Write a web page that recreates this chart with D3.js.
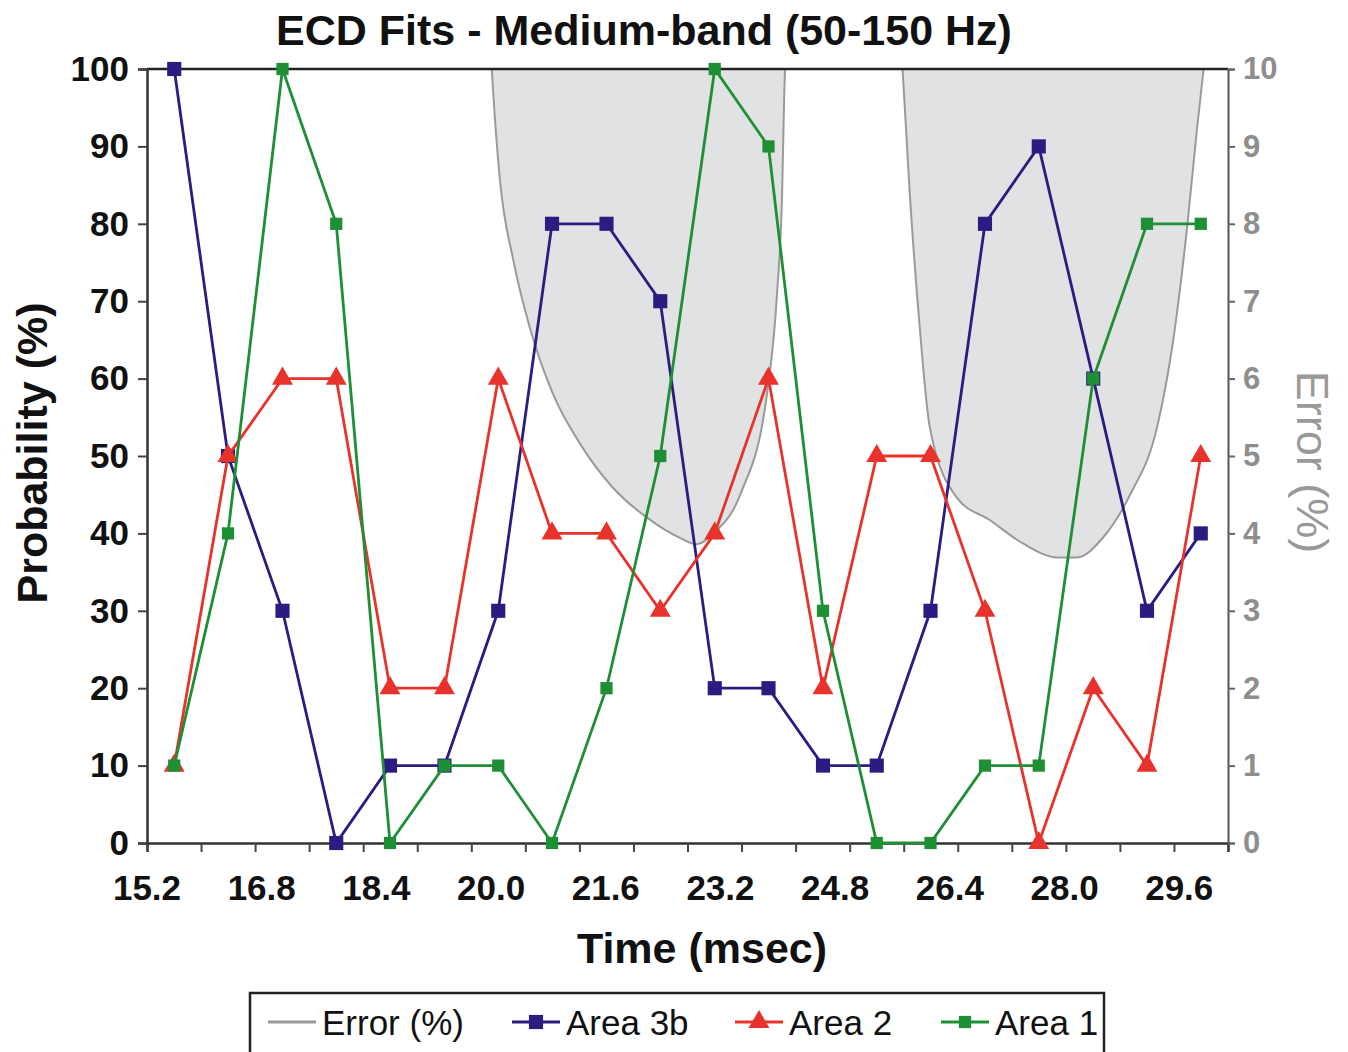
<!DOCTYPE html>
<html>
<head>
<meta charset="utf-8">
<script src="https://cdn.jsdelivr.net/npm/d3@7"></script>
<style>
  body { margin: 0; background: #fff; }
  svg { display: block; font-family: "Liberation Sans", Arial, sans-serif; }
</style>
</head>
<body>
<div id="chart"></div>
<script>
// categories: time of each fit (msec)
const times = [15.58, 16.33, 17.09, 17.84, 18.59, 19.35, 20.10, 20.85, 21.61, 22.36,
  23.12, 23.87, 24.63, 25.38, 26.13, 26.89, 27.64, 28.40, 29.15, 29.90]

const area3b = [100, 50, 30, 0, 10, 10, 30, 80, 80, 70, 20, 20, 10, 10, 30, 80, 90, 60, 30, 40]
const area2 = [10, 50, 60, 60, 20, 20, 60, 40, 40, 30, 40, 60, 20, 50, 50, 30, 0, 20, 10, 50]
const area1 = [10, 40, 100, 80, 0, 10, 10, 0, 20, 50, 100, 90, 30, 0, 0, 10, 10, 60, 80, 80]

// error curve (null = off the chart, above 10 %)
const errorTime = [20.01, 20.03, 20.12, 20.31, 20.54, 20.86, 21.24, 21.70, 22.18, 22.64,
  22.87, 23.10, 23.48, 23.85, 23.99, 24.06, 24.09, 24.10, 24.9,
  25.74, 25.84, 25.98, 26.12, 26.50, 26.96, 27.42, 27.90, 28.17, 28.54,
  28.92, 29.29, 29.51, 29.71, 29.85, 29.94]
const errorValue = [10, 9.69, 8.60, 7.53, 6.66, 5.81, 5.16, 4.59, 4.20, 3.94,
  3.86, 4.00, 4.51, 5.81, 7.11, 8.41, 9.69, 10, null,
  10, 8.40, 6.66, 5.37, 4.46, 4.17, 3.87, 3.69, 3.69, 3.95,
  4.51, 5.37, 6.46, 7.96, 9.25, 10]

const xTickLabels = [15.2, 16.8, 18.4, 20.0, 21.6, 23.2, 24.8, 26.4, 28.0, 29.6]
const leftTicks = [0, 10, 20, 30, 40, 50, 60, 70, 80, 90, 100]
const rightTicks = [0, 1, 2, 3, 4, 5, 6, 7, 8, 9, 10]

const width = 1348, height = 1052
const margin = { top: 69, bottom: 209, left: 147, right: 120 }
const xMin = 15.2, xMax = 30.28

// category boundaries: one tick between each pair of fits
const xMinorTicks = d3.range(0, 21).map(i => xMin + i * (xMax - xMin) / 20)

const svg = d3.select("#chart").append("svg")
  .attr("width", width).attr("height", height)

const x = d3.scaleLinear().domain([xMin, xMax]).range([margin.left, width - margin.right])
const y = d3.scaleLinear().domain([0, 100]).range([height - margin.bottom, margin.top])
const yR = d3.scaleLinear().domain([0, 10]).range([height - margin.bottom, margin.top])

const navy = "#2a1c80", red = "#e8332c", green = "#1f8f35"

// error area (shaded between curve and the 10 % line)
const errData = errorTime.map((t, i) => ({ t: t, v: errorValue[i] }))
svg.append("path")
  .datum(errData)
  .attr("fill", "#e1e2e4")
  .attr("d", d3.area()
    .defined(d => d.v !== null)
    .curve(d3.curveMonotoneX)
    .x(d => x(d.t))
    .y0(yR(10))
    .y1(d => yR(d.v)))
svg.append("path")
  .datum(errData)
  .attr("fill", "none")
  .attr("stroke", "#9a9a9a")
  .attr("stroke-width", 2)
  .attr("d", d3.line()
    .defined(d => d.v !== null)
    .curve(d3.curveMonotoneX)
    .x(d => x(d.t))
    .y(d => yR(d.v)))

// top frame
svg.append("line")
  .attr("x1", x(xMin)).attr("x2", x(xMax))
  .attr("y1", y(100)).attr("y2", y(100))
  .attr("stroke", "#222").attr("stroke-width", 2.5)

// axes
const xAxisG = svg.append("g")
  .attr("transform", `translate(0,${y(0)})`)
  .call(d3.axisBottom(x).tickValues(xMinorTicks).tickSize(9).tickFormat(""))
xAxisG.select(".domain").attr("stroke", "#333").attr("stroke-width", 2.5)
xAxisG.selectAll(".tick line").attr("stroke", "#444").attr("stroke-width", 2)

svg.append("g").selectAll("text")
  .data(xTickLabels)
  .enter()
  .append("text")
  .attr("x", d => x(d))
  .attr("y", y(0) + 57)
  .attr("text-anchor", "middle")
  .attr("font-size", 35)
  .attr("font-weight", "bold")
  .attr("fill", "#111")
  .text(d => d.toFixed(1))

const yAxisG = svg.append("g")
  .attr("transform", `translate(${x(xMin)},0)`)
  .call(d3.axisLeft(y).tickValues(leftTicks).tickSize(9).tickPadding(9))
yAxisG.select(".domain").attr("stroke", "#333").attr("stroke-width", 2.5)
yAxisG.selectAll(".tick line").attr("stroke", "#444").attr("stroke-width", 2)
yAxisG.selectAll(".tick text")
  .attr("font-size", 35).attr("font-weight", "bold").attr("fill", "#111")
  .attr("font-family", "Liberation Sans, Arial, sans-serif")

const yRAxisG = svg.append("g")
  .attr("transform", `translate(${x(xMax)},0)`)
  .call(d3.axisRight(yR).tickValues(rightTicks).tickSize(7).tickPadding(8))
yRAxisG.select(".domain").attr("stroke", "#555").attr("stroke-width", 2)
yRAxisG.selectAll(".tick line").attr("stroke", "#666").attr("stroke-width", 2)
yRAxisG.selectAll(".tick text")
  .attr("font-size", 31).attr("font-weight", "bold").attr("fill", "#8e8e8e")
  .attr("font-family", "Liberation Sans, Arial, sans-serif")

// series
function drawSeries(values, color, marker) {
  const g = svg.append("g")
  g.append("path")
    .datum(values)
    .attr("fill", "none")
    .attr("stroke", color)
    .attr("stroke-width", 2.8)
    .attr("d", d3.line().x((d, i) => x(times[i])).y(d => y(d)))
  g.selectAll("path.mark")
    .data(values)
    .enter()
    .append("path")
    .attr("class", "mark")
    .attr("fill", color)
    .attr("transform", (d, i) => `translate(${x(times[i])},${y(d)})`)
    .attr("d", marker)
}
const squareBig = d3.symbol().type(d3.symbolSquare).size(200)()
const squareSmall = d3.symbol().type(d3.symbolSquare).size(150)()
const triangle = d3.symbol().type(d3.symbolTriangle).size(190)()

drawSeries(area3b, navy, squareBig)
drawSeries(area2, red, triangle)
drawSeries(area1, green, squareSmall)

// titles
svg.append("text")
  .attr("x", 644).attr("y", 45)
  .attr("text-anchor", "middle")
  .attr("font-size", 43).attr("font-weight", "bold").attr("fill", "#111")
  .text("ECD Fits - Medium-band (50-150 Hz)")

svg.append("text")
  .attr("x", 702).attr("y", 963)
  .attr("text-anchor", "middle")
  .attr("font-size", 43).attr("font-weight", "bold").attr("fill", "#111")
  .text("Time (msec)")

svg.append("text")
  .attr("transform", "translate(47,453) rotate(-90)")
  .attr("text-anchor", "middle")
  .attr("font-size", 43).attr("font-weight", "bold").attr("fill", "#111")
  .text("Probability (%)")

svg.append("text")
  .attr("transform", "translate(1297,462) rotate(90)")
  .attr("text-anchor", "middle")
  .attr("font-size", 45).attr("fill", "#999")
  .text("Error (%)")

// legend
const legend = svg.append("g")
legend.append("rect")
  .attr("x", 250).attr("y", 993).attr("width", 854).attr("height", 80)
  .attr("fill", "#fff").attr("stroke", "#222").attr("stroke-width", 2.5)

const legendItems = [
  { label: "Error (%)", color: "#9a9a9a", marker: null, x: 268 },
  { label: "Area 3b", color: navy, marker: squareBig, x: 512 },
  { label: "Area 2", color: red, marker: triangle, x: 735 },
  { label: "Area 1", color: green, marker: squareSmall, x: 941 }
]
legendItems.forEach(item => {
  legend.append("line")
    .attr("x1", item.x).attr("x2", item.x + 48)
    .attr("y1", 1022).attr("y2", 1022)
    .attr("stroke", item.color).attr("stroke-width", 3)
  if (item.marker) {
    legend.append("path")
      .attr("transform", `translate(${item.x + 24},1022)`)
      .attr("fill", item.color)
      .attr("d", item.marker)
  }
  legend.append("text")
    .attr("x", item.x + 54).attr("y", 1035)
    .attr("font-size", 35).attr("fill", "#111")
    .text(item.label)
})
</script>
</body>
</html>
